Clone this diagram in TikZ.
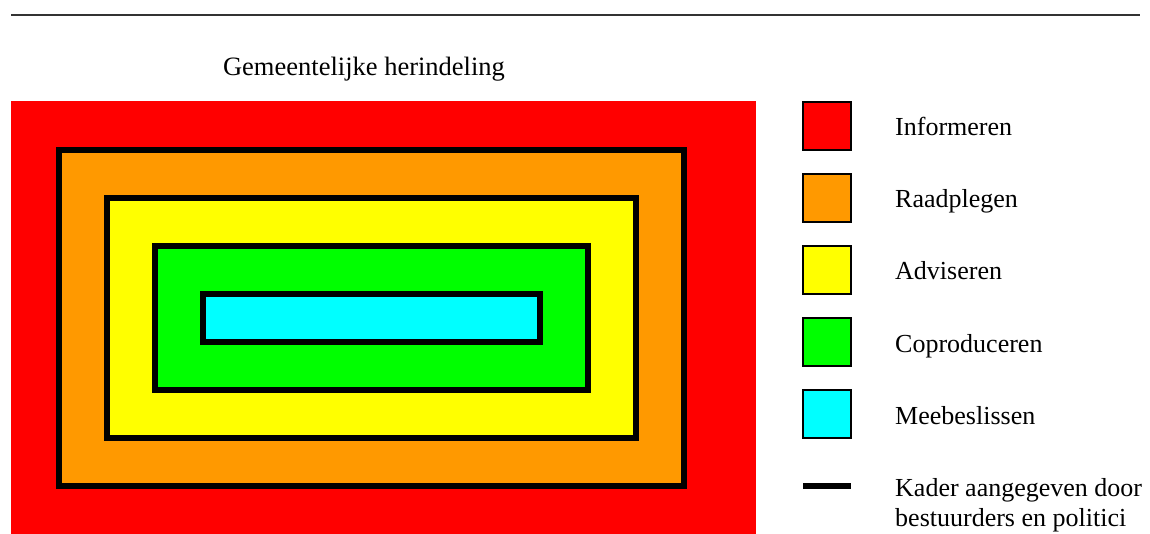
\documentclass[tikz,border=0pt]{standalone}
\usepackage{fontspec}
\setmainfont{Liberation Serif}
\definecolor{lvred}{RGB}{255,0,0}
\definecolor{lvorange}{RGB}{255,153,0}
\definecolor{lvyellow}{RGB}{255,255,0}
\definecolor{lvgreen}{RGB}{0,255,0}
\definecolor{lvcyan}{RGB}{0,255,255}
\begin{document}
\begin{tikzpicture}[x=1pt,y=-1pt,
  frame/.style={draw=black,line width=6pt,line join=miter},
  swatch/.style={draw=black,line width=1.5pt,minimum width=48pt,minimum height=48pt,inner sep=0pt},
  label/.style={anchor=base west,inner sep=0pt,font=\fontsize{26}{30}\selectfont},
]
\useasboundingbox (0,0) rectangle (1150,534);
% top rule
\draw[line width=2.5pt,black!80] (11,15) -- (1140,15);
% title
\node[anchor=base,inner sep=0pt,font=\fontsize{26.5}{30}\selectfont] (title) at (364,76) {Gemeentelijke herindeling};
% nested participation levels
\fill[lvred] (11,101) rectangle (756,534);
\filldraw[frame,fill=lvorange] (59,150) rectangle (684,486);
\filldraw[frame,fill=lvyellow] (107,198) rectangle (636,438);
\filldraw[frame,fill=lvgreen] (155,246) rectangle (588,390);
\filldraw[frame,fill=lvcyan] (203,294) rectangle (540,342);
% legend
\node[swatch,fill=lvred] (k1) at (827,126) {};
\node[swatch,fill=lvorange] (k2) at (827,198) {};
\node[swatch,fill=lvyellow] (k3) at (827,270) {};
\node[swatch,fill=lvgreen] (k4) at (827,342) {};
\node[swatch,fill=lvcyan] (k5) at (827,414) {};
\node[label] (t1) at (895,136) {Informeren};
\node[label] (t2) at (895,208) {Raadplegen};
\node[label] (t3) at (895,280) {Adviseren};
\node[label] (t4) at (895,352) {Coproduceren};
\node[label] (t5) at (895,424) {Meebeslissen};
\coordinate (ka) at (803,486);
\coordinate (kb) at (851,486);
\draw[line width=6pt] (ka) -- (kb);
\node[label] (t6) at (895,496) {Kader aangegeven door};
\node[label] (t7) at (895,526) {bestuurders en politici};
\end{tikzpicture}
\end{document}
